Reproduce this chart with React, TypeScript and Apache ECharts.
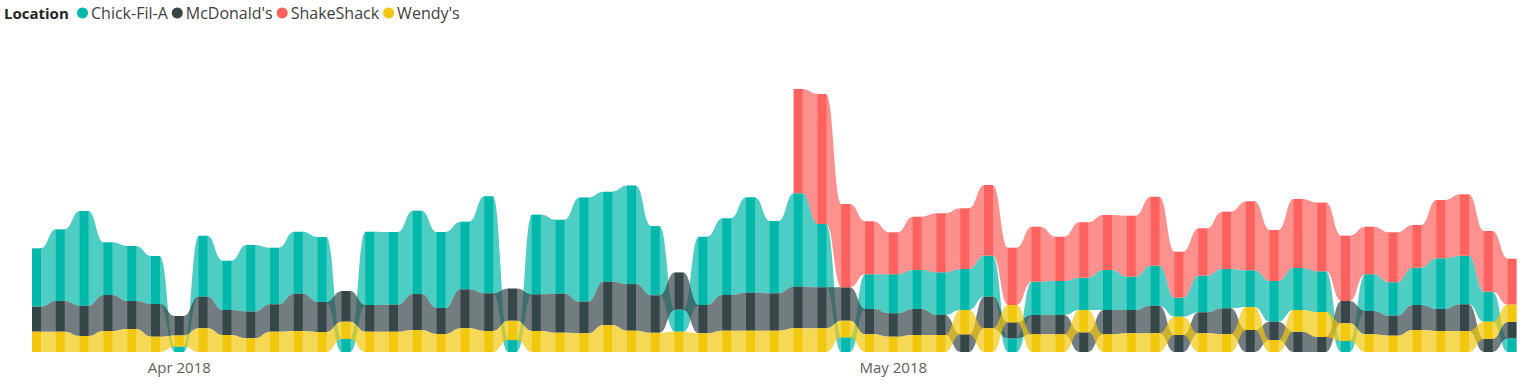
import React, { useEffect, useRef } from 'react';
import * as echarts from 'echarts';

const dates = [
  '2018-03-26', '2018-03-27', '2018-03-28', '2018-03-29', '2018-03-30', '2018-03-31',
  '2018-04-01', '2018-04-02', '2018-04-03', '2018-04-04', '2018-04-05', '2018-04-06', '2018-04-07',
  '2018-04-08', '2018-04-09', '2018-04-10', '2018-04-11', '2018-04-12', '2018-04-13', '2018-04-14',
  '2018-04-15', '2018-04-16', '2018-04-17', '2018-04-18', '2018-04-19', '2018-04-20', '2018-04-21',
  '2018-04-22', '2018-04-23', '2018-04-24', '2018-04-25', '2018-04-26', '2018-04-27', '2018-04-28',
  '2018-04-29', '2018-04-30',
  '2018-05-01', '2018-05-02', '2018-05-03', '2018-05-04', '2018-05-05', '2018-05-06', '2018-05-07',
  '2018-05-08', '2018-05-09', '2018-05-10', '2018-05-11', '2018-05-12', '2018-05-13', '2018-05-14',
  '2018-05-15', '2018-05-16', '2018-05-17', '2018-05-18', '2018-05-19', '2018-05-20', '2018-05-21',
  '2018-05-22', '2018-05-23', '2018-05-24', '2018-05-25', '2018-05-26', '2018-05-27',
];

const monthTicks = ['2018-04-01', '2018-05-01'];
const monthLabels = ['Apr 2018', 'May 2018'];

const locations = ['Chick-Fil-A', "McDonald's", 'ShakeShack', "Wendy's"];
const colors = ['#01B8AA', '#374649', '#FD625E', '#F2C80F'];

const chickFilA = [
  58.4, 71.7, 94.7, 52.7, 55, 48, 5.5, 61, 49.3, 66.7, 56.6, 62, 65, 13, 73.3, 72.7,
  83.3, 76, 67.6, 97, 12, 79.7, 74, 104.2, 90, 98.5, 69.2, 22, 68.3, 76.7, 95.4, 72.3,
  93.4, 63.3, 14.7, 34.7, 39, 39, 42.7, 41, 41, 13.7, 33.3, 34, 32.3, 40, 33.3, 40,
  19, 36.6, 39.3, 36.7, 40.7, 42, 40.7, 11, 36.7, 33.4, 37.3, 50.7, 48.6, 30, 13.7,
];

const mcDonalds = [
  25, 30.7, 30.3, 36, 28, 32.7, 19.5, 31.6, 25, 26.7, 27.4, 37.3, 30, 30.7, 26.7, 27,
  36, 26, 39, 37.7, 32.3, 36.7, 39, 31.6, 43.3, 46.6, 37.5, 37.3, 28.3, 35.7, 38, 37.4,
  41.6, 41, 33.4, 25.3, 23.4, 26, 20, 17.7, 31.6, 16, 19.3, 19.3, 19.7, 24.3, 23.3, 27.6,
  17, 21, 26, 22, 18.3, 20.3, 15, 22.3, 23.3, 20, 25, 22, 26.7, 13, 16.3,
];

const shakeShack = [
  null, null, null, null, null, null, null, null, null, null, null, null, null, null, null, null,
  null, null, null, null, null, null, null, null, null, null, null, null, null, null, null, null,
  104.3, 130, 83.3, 53, 42, 53.3, 59, 60.7, 70.7, 57.3, 55, 44.3, 55.4, 55, 61, 69,
  46, 47.4, 57.3, 69, 51, 69, 68.7, 65.3, 47.6, 50, 42.7, 58.3, 61.4, 60.7, 46,
];

const wendys = [
  20.3, 20.3, 16, 21, 23, 15.3, 11, 23.7, 17, 13.7, 20.3, 21, 20, 17.3, 20.3, 20.3,
  22, 18, 23.7, 21, 19.3, 21, 19.3, 18.7, 27, 21.3, 19.2, 20.3, 18.7, 21.3, 21.3, 21.3,
  23.7, 23.7, 16.6, 17.7, 15.3, 17, 17, 24.3, 23.7, 17.3, 17.7, 17.7, 22.3, 17.7, 18.7, 18.7,
  18.3, 18.7, 17.7, 23, 12, 21.7, 25, 17.7, 17.7, 16.3, 22, 21, 21, 17.3, 17.3,
];

const FONT = '"Segoe UI", "Open Sans", sans-serif';

function buildSeries() {
  const all: (number | null)[][] = [chickFilA, mcDonalds, shakeShack, wendys];
  const n = dates.length;
  const bottoms = all.map(() => new Array(n).fill(-1));
  const tops = all.map(() => new Array(n).fill(-1));
  for (let i = 0; i < n; i++) {
    const present = all
      .map((arr, s) => ({ s, v: arr[i] }))
      .filter((o) => o.v !== null && o.v !== undefined) as { s: number; v: number }[];
    present.sort((a, b) => a.v - b.v);
    let cum = 0;
    for (const o of present) {
      bottoms[o.s][i] = cum;
      cum += o.v;
      tops[o.s][i] = cum;
    }
  }
  return all.map((arr, s) => {
    const data: number[][] = [];
    for (let i = 0; i < n; i++) {
      if (arr[i] === null) continue;
      const hasNext = i + 1 < n && arr[i + 1] !== null;
      data.push([
        i,
        bottoms[s][i],
        tops[s][i],
        hasNext ? bottoms[s][i + 1] : -1,
        hasNext ? tops[s][i + 1] : -1,
      ]);
    }
    return {
      type: 'custom',
      name: locations[s],
      itemStyle: { color: colors[s] },
      encode: { x: 0, y: [1, 2] },
      data,
      renderItem: (params: any, api: any) => {
        const i = api.value(0);
        const b = api.value(1);
        const t = api.value(2);
        const nb = api.value(3);
        const nt = api.value(4);
        const band = api.size([1, 0])[0];
        const bw = band * 0.38;
        const pt = api.coord([i, t]);
        const pb = api.coord([i, b]);
        const color = colors[s];
        const children: any[] = [];
        if (nb >= 0) {
          const qt = api.coord([i + 1, nt]);
          const qb = api.coord([i + 1, nb]);
          const xa = pt[0] + bw / 2 - 0.5;
          const xb = qt[0] - bw / 2 + 0.5;
          const xm = (xa + xb) / 2;
          const d =
            `M${xa},${pt[1]} C${xm},${pt[1]} ${xm},${qt[1]} ${xb},${qt[1]} ` +
            `L${xb},${qb[1]} C${xm},${qb[1]} ${xm},${pb[1]} ${xa},${pb[1]} Z`;
          children.push({
            type: 'path',
            shape: { pathData: d },
            style: { fill: color, opacity: 0.7 },
          });
        }
        children.push({
          type: 'rect',
          shape: { x: pt[0] - bw / 2, y: pt[1], width: bw, height: pb[1] - pt[1] },
          style: { fill: color },
        });
        return { type: 'group', children };
      },
    };
  });
}

export default function App() {
  const ref = useRef<HTMLDivElement>(null);
  useEffect(() => {
    if (!ref.current) return;
    const chart = echarts.init(ref.current, null, { renderer: 'svg' });
    chart.setOption({
      animation: false,
      color: colors,
      title: {
        text: 'Location',
        left: 4,
        top: 5,
        padding: 0,
        textStyle: { fontFamily: FONT, fontSize: 15, fontWeight: 'bold', color: '#252423' },
      },
      legend: {
        data: locations,
        left: 77,
        top: 5,
        padding: 0,
        icon: 'circle',
        itemWidth: 11,
        itemHeight: 11,
        itemGap: 4,
        textStyle: { fontFamily: FONT, fontSize: 16, color: '#404040', padding: [0, 0, 0, -2] },
        selectedMode: false,
      },
      grid: { left: 24.6, right: 10, top: 88, bottom: 39 },
      xAxis: {
        type: 'category',
        data: dates,
        boundaryGap: true,
        axisLine: { show: false },
        axisTick: { show: false },
        splitLine: { show: false },
        axisLabel: {
          interval: (idx: number, val: string) => monthTicks.indexOf(val) >= 0,
          formatter: (val: string) => {
            const k = monthTicks.indexOf(val);
            return k >= 0 ? monthLabels[k] : '';
          },
          fontFamily: FONT,
          fontSize: 15,
          color: '#605E5C',
          margin: 7,
        },
      },
      yAxis: {
        type: 'value',
        min: 0,
        max: 264,
        show: false,
        splitLine: { show: false },
      },
      series: buildSeries(),
    });
    return () => chart.dispose();
  }, []);
  return (
    <div
      ref={ref}
      style={{ position: 'fixed', left: 0, top: 0, width: 1534, height: 391, background: '#fff' }}
    />
  );
}
